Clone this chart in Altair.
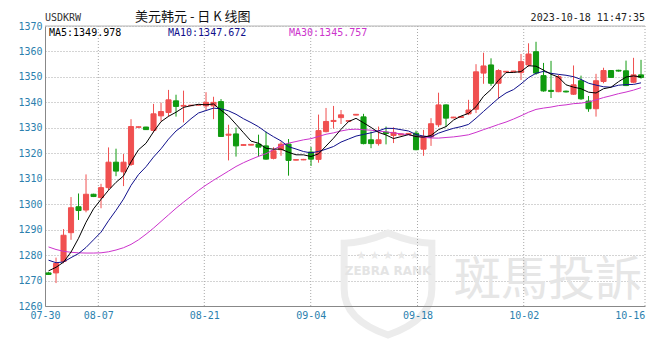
import altair as alt
import pandas as pd

# ---- daily candles (index 0 = first candle at the left edge) ----
opens = [1273.0, 1273.0, 1277.5, 1288.8, 1299.0, 1297.7, 1303.9, 1302.6, 1306.5, 1316.5,
         1312.7, 1315.6, 1330.2, 1330.3, 1329.0, 1334.7, 1336.0, 1340.6, 1338.5, 1338.7,
         1338.9, 1338.6, 1338.6, 1340.3, 1327.1, 1327.6, 1323.1, 1323.2, 1323.6, 1322.9,
         1318.0, 1321.4, 1323.6, 1317.3, 1317.4, 1320.5, 1317.6, 1328.5, 1332.5, 1334.0,
         1332.6, 1335.0, 1334.3, 1325.3, 1323.8, 1328.3, 1327.0, 1327.2, 1327.4, 1327.9,
         1321.6, 1326.4, 1331.2, 1339.0, 1333.9, 1334.1, 1335.5, 1337.3, 1351.5, 1354.7,
         1347.5, 1351.9, 1352.0, 1351.7, 1354.7, 1359.9, 1350.5, 1344.7, 1344.2, 1344.4,
         1343.2, 1348.5, 1340.5, 1337.5, 1348.2, 1352.5, 1352.6, 1352.4, 1347.9, 1350.8]
highs = [1273.3, 1279.0, 1290.2, 1302.8, 1304.2, 1311.7, 1304.1, 1308.0, 1322.3, 1321.8,
         1319.7, 1333.4, 1330.5, 1330.4, 1339.4, 1339.9, 1344.9, 1343.0, 1344.6, 1339.0,
         1339.2, 1344.0, 1342.2, 1341.3, 1331.2, 1330.1, 1323.6, 1323.6, 1327.3, 1328.5,
         1322.4, 1324.6, 1325.6, 1317.7, 1317.8, 1322.5, 1335.2, 1337.8, 1338.6, 1337.0,
         1332.9, 1335.4, 1335.5, 1328.5, 1330.5, 1330.5, 1330.2, 1327.7, 1327.9, 1328.9,
         1329.2, 1333.8, 1343.8, 1339.2, 1334.3, 1334.5, 1341.0, 1355.0, 1359.5, 1357.3,
         1353.0, 1352.3, 1352.4, 1359.0, 1363.2, 1363.8, 1355.5, 1356.3, 1350.8, 1344.6,
         1354.5, 1350.5, 1342.5, 1351.2, 1353.6, 1352.7, 1352.8, 1356.4, 1357.5, 1356.7]
lows = [1272.2, 1269.0, 1276.8, 1286.0, 1293.8, 1296.8, 1302.8, 1298.4, 1305.5, 1311.0,
        1307.1, 1315.0, 1330.1, 1329.2, 1328.2, 1332.5, 1334.4, 1334.4, 1332.1, 1338.6,
        1338.8, 1337.0, 1333.4, 1326.5, 1317.2, 1318.7, 1323.0, 1323.1, 1318.7, 1317.5,
        1317.6, 1319.0, 1311.2, 1317.2, 1317.3, 1315.0, 1316.3, 1328.2, 1329.7, 1331.5,
        1332.5, 1334.9, 1323.5, 1322.0, 1323.0, 1323.5, 1324.0, 1327.1, 1327.3, 1321.2,
        1319.0, 1322.9, 1330.3, 1330.3, 1333.8, 1334.0, 1335.0, 1335.8, 1347.3, 1346.5,
        1341.3, 1351.8, 1351.9, 1348.8, 1354.0, 1350.8, 1344.2, 1341.7, 1344.0, 1343.9,
        1342.9, 1341.0, 1336.3, 1334.4, 1347.5, 1349.6, 1352.1, 1346.4, 1347.5, 1349.3]
closes = [1272.4, 1276.7, 1287.8, 1298.6, 1297.5, 1303.9, 1303.0, 1306.5, 1316.5, 1313.0,
          1316.5, 1330.5, 1330.4, 1329.3, 1335.5, 1336.4, 1341.0, 1338.4, 1338.8, 1338.9,
          1339.1, 1340.0, 1340.0, 1326.6, 1327.5, 1322.9, 1323.4, 1323.5, 1322.4, 1317.7,
          1321.0, 1323.6, 1317.2, 1317.5, 1317.6, 1317.7, 1328.9, 1332.5, 1332.9, 1335.1,
          1332.8, 1335.3, 1323.8, 1323.8, 1325.3, 1327.8, 1328.2, 1327.6, 1327.8, 1321.4,
          1326.6, 1331.6, 1339.0, 1333.8, 1334.2, 1334.4, 1337.0, 1352.0, 1354.3, 1347.5,
          1352.5, 1352.2, 1352.3, 1356.0, 1359.0, 1351.5, 1344.5, 1344.3, 1350.1, 1344.1,
          1346.9, 1341.4, 1337.5, 1348.5, 1352.5, 1349.8, 1352.3, 1346.6, 1350.8, 1349.8]

# ---- moving averages ----
ma5 = [1273.8, 1275.2, 1277.2, 1281.2, 1286.6, 1292.9, 1298.16, 1301.9, 1305.48, 1308.58,
       1311.1, 1316.6, 1321.38, 1323.94, 1328.44, 1332.42, 1334.52, 1336.12, 1338.02, 1338.7,
       1339.24, 1339.04, 1339.36, 1336.92, 1334.64, 1331.4, 1328.08, 1324.78, 1323.94, 1321.98,
       1321.6, 1321.64, 1320.38, 1319.4, 1319.38, 1318.72, 1319.78, 1322.84, 1325.92, 1329.42,
       1332.44, 1333.72, 1331.98, 1330.16, 1328.2, 1327.2, 1325.78, 1326.54, 1327.34, 1326.56,
       1326.32, 1327.0, 1329.28, 1330.48, 1333.04, 1334.6, 1335.68, 1338.28, 1342.38, 1345.04,
       1348.66, 1351.7, 1351.76, 1352.1, 1354.4, 1354.2, 1352.66, 1351.06, 1349.88, 1346.9,
       1345.98, 1345.36, 1344.0, 1343.68, 1345.36, 1345.94, 1348.12, 1349.94, 1350.4, 1349.98]
ma10 = [1278.0, 1277.0, 1277.3, 1279.0, 1280.6, 1283.0, 1286.0, 1289.0, 1293.5, 1297.59,
        1302.0, 1307.38, 1311.64, 1314.71, 1318.51, 1321.76, 1325.56, 1328.75, 1330.98, 1333.57,
        1335.83, 1336.78, 1337.74, 1337.47, 1336.67, 1335.32, 1333.56, 1332.07, 1330.43, 1328.31,
        1326.5, 1324.86, 1322.58, 1321.67, 1320.68, 1320.16, 1320.71, 1321.61, 1322.66, 1324.4,
        1325.58, 1326.75, 1327.41, 1328.04, 1328.81, 1329.82, 1329.75, 1329.26, 1328.75, 1327.38,
        1326.76, 1326.39, 1327.91, 1328.91, 1329.8, 1330.46, 1331.34, 1333.78, 1336.43, 1339.04,
        1341.63, 1343.69, 1345.02, 1347.24, 1349.72, 1351.43, 1352.18, 1351.41, 1350.99, 1350.65,
        1350.09, 1349.01, 1347.53, 1346.78, 1346.13, 1345.96, 1346.74, 1346.97, 1347.04, 1347.67]
ma30 = [1283.2, 1282.2, 1281.5, 1281.1, 1280.9, 1280.8, 1280.8, 1280.9, 1281.3, 1282.0,
        1282.9, 1284.2, 1286.0, 1288.2, 1290.6, 1293.2, 1295.8, 1298.4, 1300.8, 1303.1,
        1305.4, 1307.5, 1309.4, 1311.2, 1313.0, 1314.8, 1316.3, 1317.6, 1318.8, 1319.82,
        1321.44, 1323.0, 1323.98, 1324.61, 1325.28, 1325.74, 1326.61, 1327.47, 1328.02, 1328.76,
        1329.3, 1329.46, 1329.24, 1329.06, 1328.72, 1328.43, 1328.0, 1327.64, 1327.28, 1326.69,
        1326.28, 1326.0, 1325.96, 1326.2, 1326.43, 1326.81, 1327.26, 1328.21, 1329.28, 1330.27,
        1331.32, 1332.27, 1333.44, 1334.73, 1336.11, 1337.23, 1337.75, 1338.15, 1338.72, 1339.02,
        1339.49, 1339.69, 1340.15, 1340.97, 1341.88, 1342.61, 1343.41, 1344.05, 1344.81, 1345.76]

# ---- axis ticks ----
tick_labels = ["07-30", "08-07", "08-21", "09-04", "09-18", "10-02", "10-16"]
tick_pos = [-0.47, 6.64, 20.77, 34.96, 49.2, 63.36, 77.49]
grid_pos = [6.64, 20.77, 34.96, 49.2, 63.36]
y_ticks = list(range(1260, 1371, 10))

header_left = "USDKRW"
header_title = "美元韩元 - 日 K 线图"
header_time = "2023-10-18 11:47:35"
ma_texts = ["MA5:1349.978", "MA10:1347.672", "MA30:1345.757"]

RED = "#f05050"
GREEN = "#109a10"
C_MA5 = "#000000"
C_MA10 = "#10108c"
C_MA30 = "#cc33cc"
LBL = "#2b7fae"
MONO = "DejaVu Sans Mono"

n = len(closes)
df = pd.DataFrame({"k": list(range(n)), "open": opens, "high": highs, "low": lows,
                   "close": closes, "ma5": ma5, "ma10": ma10, "ma30": ma30})
df["dir"] = ["up" if c >= o else "down" for o, c in zip(opens, closes)]

# label expression for the x ticks
expr = ""
for i in range(len(tick_pos) - 1):
    th = (tick_pos[i] + tick_pos[i + 1]) / 2
    expr += f"datum.value < {th} ? '{tick_labels[i]}' : "
expr += f"'{tick_labels[-1]}'"

xs = alt.Scale(domain=[-0.47, 79.53], nice=False, zero=False)
ys = alt.Scale(domain=[1260, 1370], nice=False, zero=False)
xaxis = alt.Axis(values=tick_pos, labelExpr=expr, grid=False, ticks=False, domain=True,
                 domainColor="#888888", labelFont=MONO, labelFontSize=10, labelColor=LBL,
                 labelPadding=4, labelFlush=False, labelOverlap=False, title=None, zindex=2)
yaxis = alt.Axis(values=y_ticks, format="d", grid=True, gridDash=[1, 2], gridColor="#a8a8a8",
                 ticks=False, domain=True, domainColor="#888888", labelFont=MONO,
                 labelFontSize=10, labelColor=LBL, labelPadding=3, labelFlush=False,
                 title=None)
col = alt.Color("dir:N", scale=alt.Scale(domain=["up", "down"], range=[RED, GREEN]), legend=None)
stk = alt.Stroke("dir:N", scale=alt.Scale(domain=["up", "down"], range=[RED, GREEN]), legend=None)

one = pd.DataFrame({"t": [""]})


def txt(text, x, y, color, size=10, font=MONO, align="left", weight="normal"):
    return alt.Chart(pd.DataFrame({"t": [text]})).mark_text(
        align=align, baseline="middle", font=font, fontSize=size, color=color,
        fontWeight=weight).encode(x=alt.value(x), y=alt.value(y), text="t:N")


SHIELD = ("M0,-1 C0.35,-0.86 0.62,-0.8 0.86,-0.8 L0.86,0.1 C0.86,0.6 0.42,0.86 0,1 "
          "C-0.42,0.86 -0.86,0.6 -0.86,0.1 L-0.86,-0.8 C-0.62,-0.8 -0.35,-0.86 0,-1 Z")

shield = alt.Chart(one).mark_point(shape=SHIELD, size=10400, filled=False, stroke="#ececec",
                                   strokeWidth=7, opacity=1).encode(x=alt.value(343), y=alt.value(258))
wm_stars = txt("★ ★ ★ ★ ★", 343, 230, "#e8e8e8", size=11, font="DejaVu Sans", align="center")
wm_zebra = txt("ZEBRA RANK", 343, 245, "#e4e4e4", size=12, font="DejaVu Sans", align="center", weight="bold")
wm_big = txt("斑馬投訴", 503, 255, "#e6e6e6", size=47, font="Noto Sans CJK TC", align="center")

base = alt.Chart(df)

wicks = base.mark_rule(strokeWidth=1).encode(
    x=alt.X("k:Q", scale=xs, axis=xaxis),
    y=alt.Y("low:Q", scale=ys, axis=yaxis),
    y2="high:Q",
    color=col,
)
bodies = base.transform_calculate(
    xl="datum.k - 0.34", xr="datum.k + 0.34"
).mark_rect(strokeWidth=1).encode(
    x=alt.X("xl:Q", scale=xs, axis=xaxis),
    x2="xr:Q",
    y=alt.Y("open:Q", scale=ys, axis=yaxis),
    y2="close:Q",
    color=col,
    stroke=stk,
)


def ma_line(field, color):
    return base.mark_line(strokeWidth=1, color=color, clip=True).encode(
        x=alt.X("k:Q", scale=xs, axis=xaxis),
        y=alt.Y(f"{field}:Q", scale=ys, axis=yaxis),
    )


vgrid = alt.Chart(pd.DataFrame({"g": grid_pos})).mark_rule(
    color="#a8a8a8", strokeDash=[1, 2], strokeWidth=1).encode(x=alt.X("g:Q", scale=xs, axis=xaxis))
top_border = alt.Chart(one).mark_rule(color="#b4b4b4", strokeWidth=1).encode(y=alt.value(0))
right_border = alt.Chart(one).mark_rule(color="#a8a8a8", strokeDash=[1, 2], strokeWidth=1).encode(x=alt.value(600))

texts = [
    txt(header_left, 0, -8, "#333333"),
    txt(header_title, 90, -9, "#111111", size=13, font="Noto Sans CJK SC"),
    txt(header_time, 600, -8, "#222222", align="right"),
    txt(ma_texts[0], 4, 7, C_MA5),
    txt(ma_texts[1], 123, 7, C_MA10),
    txt(ma_texts[2], 244, 7, C_MA30),
]

chart = alt.layer(
    shield, wm_stars, wm_zebra, wm_big,
    vgrid, top_border, right_border,
    wicks, bodies,
    ma_line("ma30", C_MA30), ma_line("ma10", C_MA10), ma_line("ma5", C_MA5),
    *texts,
).properties(
    width=600, height=280,
    autosize=alt.AutoSizeParams(type="none"),
    padding={"left": 45, "top": 26, "right": 25, "bottom": 41},
    background="white",
).configure_view(stroke=None)

chart.save("out.html", embed_options={"renderer": "svg", "actions": False})
